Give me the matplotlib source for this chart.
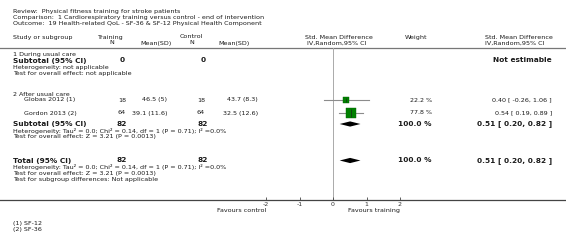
import numpy as np
import matplotlib.pyplot as plt
from matplotlib.patches import Polygon

# study data
studies = ["Globas 2012 (1)", "Gordon 2013 (2)"]
trn_n = [18, 64]
trn_mean_sd = ["46.5 (5)", "39.1 (11.6)"]
ctl_n = [18, 64]
ctl_mean_sd = ["43.7 (8.3)", "32.5 (12.6)"]
smd = [0.40, 0.54]
ci_lo = [-0.26, 0.19]
ci_hi = [1.06, 0.89]
weights = [22.2, 77.8]

# pooled results
sub_est, sub_lo, sub_hi = 0.51, 0.20, 0.82
tot_est, tot_lo, tot_hi = 0.51, 0.20, 0.82
sub_n = (82, 82)
tot_n = (82, 82)

ticks = [-2, -1, 0, 1, 2]
footnotes = ["(1) SF-12", "(2) SF-36"]

W, H = 566, 244
fig = plt.figure(figsize=(W / 100, H / 100), dpi=100)
fig.patch.set_facecolor("white")

# text layer in pixel coordinates
tx = fig.add_axes([0, 0, 1, 1])
tx.set_xlim(0, W)
tx.set_ylim(H, 0)
tx.axis("off")

fs = 4.6
fb = 5.3
tc = "#1a1a1a"


def t(x, y, s, ha="left", bold=False, size=None):
    tx.text(x, y, s, ha=ha, va="center", color=tc,
            fontsize=size or (fb if bold else fs),
            fontweight="bold" if bold else "normal")


t(13, 11.5, "Review:  Physical fitness training for stroke patients")
t(13, 17.5, "Comparison:  1 Cardiorespiratory training versus control - end of intervention")
t(13, 23.5, "Outcome:  19 Health-related QoL - SF-36 & SF-12 Physical Health Component")

# column headers
t(13, 37, "Study or subgroup")
t(97, 37, "Training")
t(112, 43, "N", ha="center")
t(140, 43, "Mean(SD)")
t(180, 37, "Control")
t(192, 43, "N", ha="center")
t(218, 43, "Mean(SD)")
t(305, 37.5, "Std. Mean Difference")
t(307, 43, "IV,Random,95% CI")
t(405, 38, "Weight")
t(485, 37.5, "Std. Mean Difference")
t(485, 43, "IV,Random,95% CI")
tx.plot([0, W], [48, 48], color="#777777", lw=0.9)

# subgroup 1
t(13, 54.5, "1 During usual care")
t(13, 60.5, "Subtotal (95% CI)", bold=True)
t(122, 60.5, "0", ha="center", bold=True)
t(203, 60.5, "0", ha="center", bold=True)
t(552, 60.5, "Not estimable", ha="right", bold=True)
t(13, 67.5, "Heterogeneity: not applicable")
t(13, 74, "Test for overall effect: not applicable")

# subgroup 2
t(13, 94, "2 After usual care")
rows_y = [100, 113]
for i, y in enumerate(rows_y):
    t(24, y, studies[i])
    t(122, y, str(trn_n[i]), ha="center")
    t(167, y, trn_mean_sd[i], ha="right")
    t(201, y, str(ctl_n[i]), ha="center")
    t(258, y, ctl_mean_sd[i], ha="right")
    t(432, y, f"{weights[i]:.1f} %", ha="right")
    t(552, y, f"{smd[i]:.2f} [ {ci_lo[i]:.2f}, {ci_hi[i]:.2f} ]", ha="right")

sub_y = 124
t(13, sub_y, "Subtotal (95% CI)", bold=True)
t(122, sub_y - 0.5, str(sub_n[0]), ha="center", bold=True)
t(203, sub_y - 0.5, str(sub_n[1]), ha="center", bold=True)
t(432, sub_y, f"{sum(weights):.1f} %", ha="right", bold=True)
t(552, sub_y, f"{sub_est:.2f} [ {sub_lo:.2f}, {sub_hi:.2f} ]", ha="right", bold=True)
t(13, 130.8, "Heterogeneity: Tau² = 0.0; Chi² = 0.14, df = 1 (P = 0.71); I² =0.0%")
t(13, 136.8, "Test for overall effect: Z = 3.21 (P = 0.0013)")

tot_y = 160.5
t(13, tot_y, "Total (95% CI)", bold=True)
t(122, tot_y - 0.5, str(tot_n[0]), ha="center", bold=True)
t(203, tot_y - 0.5, str(tot_n[1]), ha="center", bold=True)
t(432, tot_y, f"{sum(weights):.1f} %", ha="right", bold=True)
t(552, tot_y, f"{tot_est:.2f} [ {tot_lo:.2f}, {tot_hi:.2f} ]", ha="right", bold=True)
t(13, 167, "Heterogeneity: Tau² = 0.0; Chi² = 0.14, df = 1 (P = 0.71); I² =0.0%")
t(13, 173, "Test for overall effect: Z = 3.21 (P = 0.0013)")
t(13, 179, "Test for subgroup differences: Not applicable")

for k, note in enumerate(footnotes):
    t(13, 223 + 7 * k, note)

# forest plot axes, x in SMD units, y in pixel rows
ppu = 33.5
x0 = 333
fa = fig.add_axes([0, (H - 200) / H, 1, (200 - 48) / H])
fa.set_xlim(-x0 / ppu, (W - x0) / ppu)
fa.set_ylim(200, 48)
fa.patch.set_alpha(0)
for s in ["top", "left", "right"]:
    fa.spines[s].set_visible(False)
fa.spines["bottom"].set_color("#444444")
fa.spines["bottom"].set_linewidth(0.9)
fa.set_yticks([])
fa.set_xticks(ticks)
fa.set_xticklabels([str(v) for v in ticks])
fa.tick_params(axis="x", direction="in", length=2.5, width=0.6, color="#444444",
               labelsize=4.5, labelcolor="#333333", pad=1.5)
fa.axvline(0, color="#aaaaaa", lw=0.7, zorder=0)

for i, y in enumerate(rows_y):
    fa.plot([ci_lo[i], ci_hi[i]], [y, y], color="#8c8c8c", lw=0.8, zorder=1)
    ms = 7.3 * np.sqrt(weights[i] / max(weights))
    fa.plot(smd[i], y, marker="s", ms=ms, color="#008000", mec="#006400",
            mew=0.3, zorder=2)
    fa.plot(smd[i], y, marker="|", ms=ms * 0.7, color="#1a1a1a", mew=0.4, zorder=3)


def diamond(est, lo, hi, y, h=2.6):
    fa.add_patch(Polygon([[lo, y], [est, y - h], [hi, y], [est, y + h]],
                         closed=True, color="black", lw=0, zorder=2))


diamond(sub_est, sub_lo, sub_hi, sub_y)
diamond(tot_est, tot_lo, tot_hi, tot_y)

fa.text(-2, 210, "Favours control", ha="right", va="center", fontsize=fs, color=tc)
fa.text(2, 210, "Favours training", ha="right", va="center", fontsize=fs, color=tc)
for txt in fa.texts:
    txt.set_clip_on(False)

fig.savefig("out.png", dpi=100)
